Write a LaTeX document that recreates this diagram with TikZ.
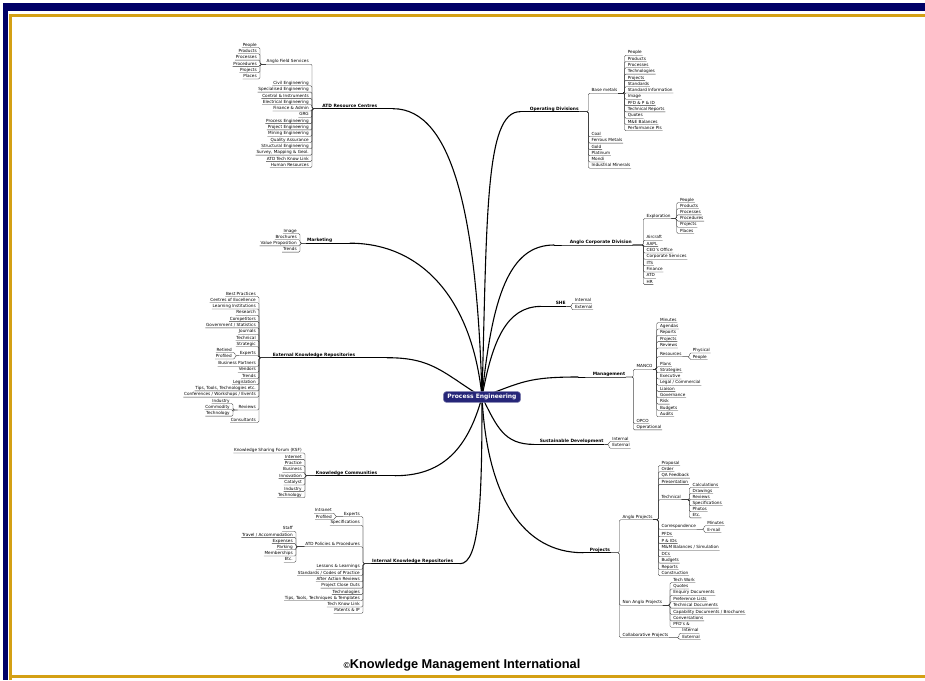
\documentclass[tikz,border=0pt]{standalone}
\usepackage{fontspec}
\setmainfont{DejaVu Sans}
\newfontfamily\capfont{Liberation Sans}
\usetikzlibrary{backgrounds}

\definecolor{framenavy}{RGB}{0,0,102}
\definecolor{framegold}{RGB}{212,160,20}
\definecolor{hubblue}{RGB}{38,38,120}

\tikzset{
  x=1pt, y=-1pt,
  leaf/.style={font=\fontsize{4.2}{5}\selectfont, inner xsep=0.6pt, inner ysep=0.3pt,
               text height=3.1pt, text depth=0.9pt},
  topic/.style={font=\bfseries\fontsize{4.4}{5.5}\selectfont, inner xsep=0.6pt, inner ysep=0.3pt,
                text height=3.4pt, text depth=1pt},
  hub/.style={fill=hubblue, draw=hubblue!60, line width=0.6pt, rounded corners=3pt, text=white,
              font=\bfseries\fontsize{6}{7}\selectfont, inner xsep=4pt, inner ysep=2.5pt},
  ul/.style={line width=0.35pt, black!80},
  stem/.style={line width=0.8pt, black},
  branch/.style={line width=1.1pt, black, line cap=round},
}

% children placed to the right of #1, bracket line at x = #2
\newcommand\rightkids[3]{%
  \coordinate (#1-b) at (#2,0);
  \foreach \yy/\tx [count=\cnt] in {#3}{%
    \node[leaf, anchor=west] (#1-\cnt) at (#2+2.5,\yy) {\tx};
    \draw[ul, rounded corners=1.3pt] (#1.south east) -- (#1.south east -| #1-b)
      |- (#1-\cnt.south west) -- (#1-\cnt.south east);
  }}
% children placed to the left of #1, bracket line at x = #2
\newcommand\leftkids[3]{%
  \coordinate (#1-b) at (#2,0);
  \foreach \yy/\tx [count=\cnt] in {#3}{%
    \node[leaf, anchor=east] (#1-\cnt) at (#2-2.5,\yy) {\tx};
    \draw[ul, rounded corners=1.3pt] (#1.south west) -- (#1.south west -| #1-b)
      |- (#1-\cnt.south east) -- (#1-\cnt.south west);
  }}

\begin{document}
\begin{tikzpicture}
\useasboundingbox (0,0) rectangle (925,680);

% frame
\fill[framenavy] (3,3) rectangle (925,11);
\fill[framenavy] (3,3) rectangle (7.5,680);
\draw[framegold, line width=3pt] (10.3,680) |- (925,15);
\draw[framegold, line width=3pt] (10.3,676.5) -- (925,676.5);

% central topic
\node[hub] (pe) at (482,397) {Process Engineering};

% ---------- left side ----------
\node[topic, anchor=east] (atd) at (378,106) {ATD Resource Centres};
\draw[stem] (atd.south west) -- (atd.south east) -- ++(15,0) coordinate (atd-e);
\leftkids{atd}{312}{61.7/Anglo Field Services,83.3/Civil Engineering,89.6/Specialised Engineering,95.9/Control \& Instruments,102.2/Electrical Engineering,108.5/Finance \& Admin,114.8/GRG,121.1/Process Engineering,127.4/Project Engineering,133.7/Mining Engineering,140/Quality Assurance,146.3/Structural Engineering,152.6/{Survey, Mapping \& Geol.},158.9/ATD Tech Know Link,165.2/Human Resources}
\leftkids{atd-1}{260}{45/People,51.3/Products,57.6/Processes,63.9/Procedures,70.2/Projects,76.5/Places}

\node[topic, anchor=east] (mkt) at (333,240.5) {Marketing};
\draw[stem] (mkt.south west) -- (mkt.south east) -- ++(17,0) coordinate (mkt-e);
\leftkids{mkt}{300}{231/Image,237.2/Brochures,243.4/Value Proposition,249.6/Trends}

\node[topic, anchor=east] (ekr) at (356,355) {External Knowledge Repositories};
\draw[stem] (ekr.south west) -- (ekr.south east) -- ++(31,0) coordinate (ekr-e);
\leftkids{ekr}{259}{294/Best Practices,300.2/Centres of Excellence,306.5/Learning Institutions,312.8/Research,319.1/Competitors,325.4/{Government / Statistics},331.7/Journals,338/Technical,344.3/Strategic,353.3/Experts,363.7/Business Partners,369.8/Vendors,376/Trends,382.2/Legislation,388.4/{Tips, Tools, Technologies etc.},394.6/{Conferences / Workshops / Events},407.5/Reviews,420/Consultants}
\leftkids{ekr-10}{235}{350/Retired,356.5/Profiled}
\leftkids{ekr-17}{233}{401/Industry,407.3/Commodity,413.6/Technology}

\node[topic, anchor=east] (kc) at (378,473) {Knowledge Communities};
\draw[stem] (kc.south west) -- (kc.south east) -- ++(17,0) coordinate (kc-e);
\leftkids{kc}{305}{450.5/Knowledge Sharing Forum (KSF),456.9/Internet,463.3/Practice,469.7/Business,476.1/Innovation,482.5/Catalyst,488.9/Industry,495.3/Technology}

\node[topic, anchor=east] (ikr) at (454,561) {Internal Knowledge Repositories};
\draw[stem] (ikr.south west) -- (ikr.south east) -- ++(6,0) coordinate (ikr-e);
\leftkids{ikr}{363}{514/Experts,522.7/Specifications,544.3/ATD Policies \& Procedures,566.7/Lessons \& Learnings,573/{Standards / Codes of Practice},579.3/After Action Reviews,585.6/Project Close Outs,591.9/Technologies,598.2/{Tips, Tools, Techniques \& Templates},604.5/Tech Know Link,610.8/Patents \& IP}
\leftkids{ikr-1}{335}{510.7/Intranet,517/Profiled}
\leftkids{ikr-3}{296}{528.7/Staff,534.9/{Travel / Accommodation},541.1/Expenses,547.3/Parking,553.5/Memberships,559.7/Etc.}

% ---------- right side ----------
\node[topic, anchor=west] (od) at (529,109) {Operating Divisions};
\draw[stem] (od.south east) -- (od.south west) -- ++(-9,0) coordinate (od-e);
\rightkids{od}{588.3}{90.7/Base metals,134.3/Coal,140.6/Ferrous Metals,146.9/Gold,153.2/Platinum,159.5/Mondi,165.8/Industrial Minerals}
\rightkids{od-1}{624.5}{52.7/People,59/Products,65.3/Processes,71.6/Technologies,77.9/Projects,84.2/Standards,90.5/Standard Information,96.8/Image,103.1/{PFD \& P \& ID},109.4/Technical Reports,115.7/Quotes,122/M\&E Balances,128.3/Performance PIs}

\node[topic, anchor=west] (acd) at (569,242.3) {Anglo Corporate Division};
\draw[stem] (acd.south east) -- (acd.south west) -- ++(-15,0) coordinate (acd-e);
\rightkids{acd}{643.3}{216/Exploration,237.7/Aircraft,244.1/AAPL,250.5/CEO's Office,256.8/Corporate Services,263.2/ITS,269.5/Finance,275.8/ATD,282.1/HR}
\rightkids{acd-1}{676.7}{200/People,206.2/Products,212.4/Processes,218.6/Procedures,224.8/Projects,231/Places}

\node[topic, anchor=west] (she) at (555,303.7) {SHE};
\draw[stem] (she.south east) -- (she.south west) -- ++(-14,0) coordinate (she-e);
\rightkids{she}{571.7}{300.7/Internal,307.3/External}

\node[topic, anchor=west] (mgt) at (592,374.3) {Management};
\draw[stem] (mgt.south east) -- (mgt.south west) -- ++(-14,0) coordinate (mgt-e);
\rightkids{mgt}{633.3}{366.7/MANCO,421/OPCO,427.4/Operational}
\rightkids{mgt-1}{656.7}{320/Minutes,326.5/Agendas,332.8/Reports,339.1/Projects,345.5/Reviews,354.3/Resources,364/Plans,370.3/Strategies,376.5/Executive,382.7/{Legal / Commercial},388.9/Liaison,395.2/Governance,401.6/Risk,408/Budgets,414.3/Audits}
\rightkids{mgt-1-6}{689.5}{350.5/Physical,357/People}

\node[topic, anchor=west] (sd) at (539,441.7) {Sustainable Development};
\draw[stem] (sd.south east) -- (sd.south west) -- ++(-5,0) coordinate (sd-e);
\rightkids{sd}{609}{439/Internal,445.7/External}

\node[topic, anchor=west] (prj) at (589,550) {Projects};
\draw[stem] (prj.south east) -- (prj.south west) -- ++(-6,0) coordinate (prj-e);
\rightkids{prj}{619.3}{517.3/Anglo Projects,602.7/Non Anglo Projects,635/Collaborative Projects}
\rightkids{prj-1}{658.3}{463/Proposal,469.3/Order,475.6/QA Feedback,481.9/Presentation,497.3/Technical,526.7/Correspondence,534.3/PFDs,540.9/P \& IDs,547.8/{M\&M Balances / Simulation},554.3/DCs,560.6/Budgets,567/Reports,573.3/Construction}
\rightkids{prj-1-5}{689.3}{485/Calculations,491/Drawings,497/Reviews,503.2/Specifications,509.3/Photos,515.4/Etc.}
\rightkids{prj-1-6}{704}{523.3/Minutes,530/E-mail}
\rightkids{prj-2}{670}{580/Tech Work,586.5/Quotes,592.8/Enquiry Documents,599.2/Preference Lists,605.6/Technical Documents,612/{Capability Documents / Brochures},618.4/Conversations,624.8/PFD's \&}
\rightkids{prj-3}{679}{630.7/Internal,637.3/External}

% main branches from the central topic, kept underneath the hub box
\begin{pgfonlayer}{background}
\draw[branch] (pe.center) .. controls +(-5,-180) and +(60,0) .. (atd-e);
\draw[branch] (pe.center) .. controls +(5,-180) and +(-35,0) .. (od-e);
\draw[branch] (pe.center) .. controls +(-10,-100) and +(70,0) .. (mkt-e);
\draw[branch] (pe.center) .. controls +(10,-100) and +(-45,0) .. (acd-e);
\draw[branch] (pe.center) .. controls +(10,-55) and +(-35,0) .. (she-e);
\draw[branch] (pe.center) .. controls +(-40,-25) and +(45,0) .. (ekr-e);
\draw[branch] (pe.center) .. controls +(40,-15) and +(-50,0) .. (mgt-e);
\draw[branch] (pe.center) .. controls +(-15,55) and +(45,0) .. (kc-e);
\draw[branch] (pe.center) .. controls +(15,30) and +(-30,0) .. (sd-e);
\draw[branch] (pe.center) .. controls +(0,100) and +(20,0) .. (ikr-e);
\draw[branch] (pe.center) .. controls +(5,100) and +(-60,0) .. (prj-e);
\end{pgfonlayer}

% credit line
\node[font=\capfont\bfseries\fontsize{12.8}{14}\selectfont, anchor=base] (credit) at (462,668)
  {{\fontsize{8.5}{9}\selectfont ©}Knowledge Management International};
\end{tikzpicture}
\end{document}
